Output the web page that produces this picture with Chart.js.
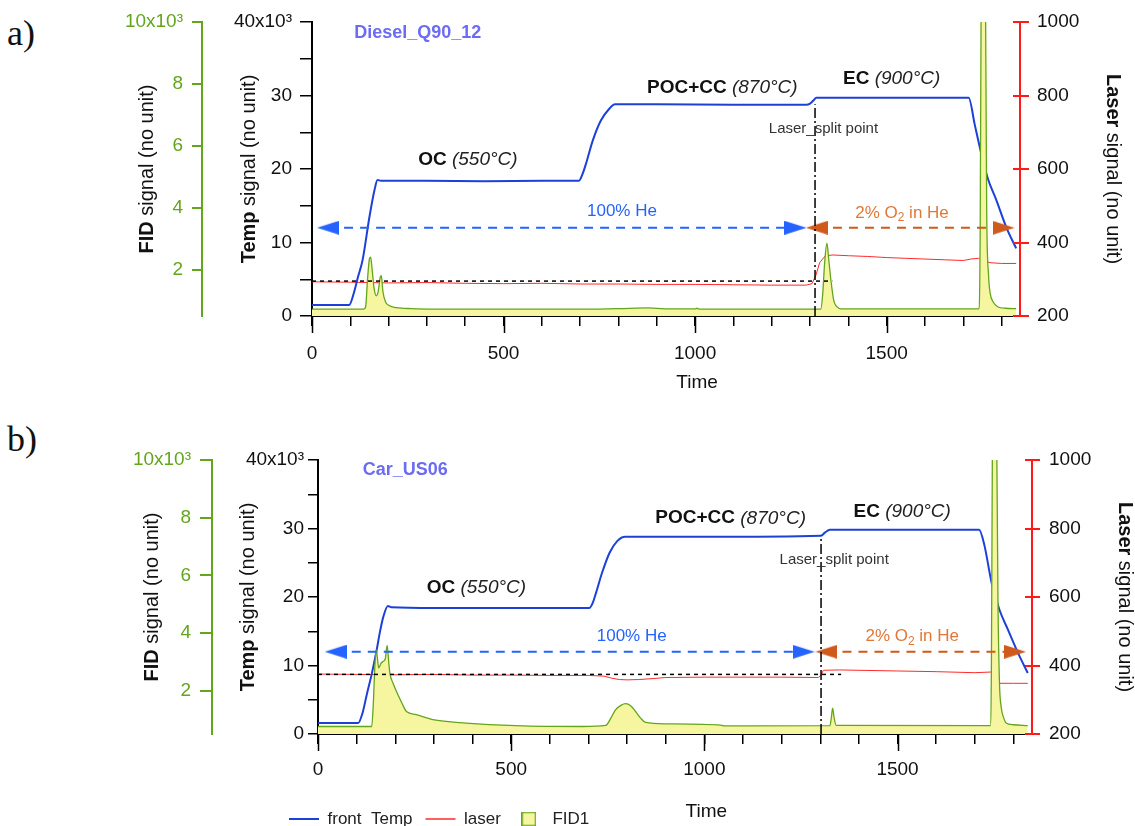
<!DOCTYPE html>
<html>
<head>
<meta charset="utf-8">
<script src="https://cdn.jsdelivr.net/npm/chart.js@4.4.1/dist/chart.umd.min.js"></script>
<style>
  body { margin: 0; background: #fff; width: 1135px; height: 826px; overflow: hidden; position: relative; }
  canvas { position: absolute; left: 0; }
  .tag { position: absolute; left: 7px; font: 36px 'Liberation Serif', 'Times New Roman', serif; line-height: 1; color: #111; }
</style>
</head>
<body>
<div class="tag" style="top:15px">a)</div>
<div class="tag" style="top:421px">b)</div>
<canvas id="chartA" width="1135" height="400" style="top:0"></canvas>
<canvas id="chartB" width="1135" height="400" style="top:426px"></canvas>
<script>
const FONT = "'Liberation Sans', Arial, sans-serif";
Chart.defaults.font.family = FONT;
Chart.defaults.color = '#111';

// tick labels
const timeLabels = [0, 500, 1000, 1500];
const tempLabels = [0, 10000, 20000, 30000, 40000];
const fidLabels = [2000, 4000, 6000, 8000, 10000];
const laserLabels = [200, 400, 600, 800, 1000];

// ---- a) Diesel_Q90_12 ----
const aTempTime = [0, 97, 109, 120, 132, 150, 163, 171, 180, 300, 450, 600, 697, 706, 715, 733, 754, 776, 791, 900, 1100, 1290, 1300, 1310, 1316, 1400, 1600, 1714, 1730, 1747, 1764, 1786, 1812, 1838];
const aTemp = [1500, 1500, 3100, 5300, 7600, 13500, 17100, 18500, 18400, 18400, 18350, 18400, 18400, 19300, 20700, 23900, 26600, 28200, 28800, 28800, 28750, 28750, 28900, 29400, 29700, 29700, 29700, 29700, 26000, 22100, 18700, 15800, 12100, 9200];
const aLaserTime = [0, 100, 200, 300, 400, 500, 600, 700, 800, 900, 1000, 1100, 1200, 1290, 1305, 1315, 1325, 1340, 1360, 1400, 1450, 1500, 1550, 1600, 1650, 1700, 1720, 1740, 1755, 1770, 1800, 1838];
const aLaser = [293, 292, 290, 291, 289, 288, 289, 287, 287, 286, 286, 285, 284, 284, 288, 310, 345, 364, 366, 364, 362, 359, 357, 355, 353, 351, 355, 357, 350, 345, 343, 343];
const aFidTime = [0, 135, 140, 145, 150, 153, 157, 162, 168, 173, 178, 181, 185, 192, 200, 220, 260, 400, 700, 800, 880, 920, 1000, 1005, 1010, 1300, 1328, 1333, 1338, 1344, 1349, 1355, 1362, 1370, 1380, 1740, 1744, 1747, 1752, 1757, 1761, 1766, 1770, 1778, 1790, 1810, 1838];
const aFid = [720, 720, 800, 1700, 2350, 2400, 2000, 1400, 1150, 1300, 1750, 1800, 1300, 950, 850, 770, 740, 720, 720, 740, 760, 730, 730, 750, 725, 720, 725, 1200, 2200, 2850, 2300, 1600, 1000, 800, 730, 730, 3000, 12000, 16000, 13000, 4000, 1800, 1250, 950, 800, 750, 740];
const aBaseline = [295, 1358];   // laser level, end time
const aSplit = [1313, 28800];    // time, temp at top
const aHeArrow = [42, 1262];
const aO2Arrow = [1318, 1805];

// ---- b) Car_US06 ----
const bTempTime = [0, 104, 115, 126, 140, 151, 160, 169, 181, 190, 300, 500, 702, 710, 719, 735, 755, 775, 795, 1000, 1302, 1312, 1325, 1500, 1711, 1725, 1743, 1764, 1786, 1812, 1837];
const bTemp = [1600, 1600, 3000, 5700, 9000, 12000, 14800, 17100, 18700, 18500, 18400, 18400, 18400, 19000, 20500, 23500, 26500, 28200, 28800, 28800, 28950, 29400, 29800, 29800, 29800, 27500, 22200, 18100, 15200, 11800, 8900];
const bLaserTime = [0, 100, 200, 300, 400, 500, 600, 700, 740, 760, 780, 800, 830, 870, 900, 1000, 1100, 1200, 1295, 1302, 1308, 1350, 1400, 1500, 1600, 1700, 1743, 1764, 1800, 1837];
const bLaser = [375, 374, 373, 374, 372, 372, 371, 371, 369, 363, 359, 358, 359, 362, 365, 366, 366, 366, 365, 372, 386, 387, 386, 384, 382, 379, 381, 348, 348, 348];
const bFidTime = [0, 139, 143, 147, 151, 154, 157, 163, 169, 174, 179, 183, 186, 194, 207, 218, 229, 254, 297, 383, 512, 685, 745, 758, 770, 785, 796, 810, 822, 835, 848, 900, 1046, 1050, 1325, 1329, 1332, 1336, 1341, 1740, 1743, 1746, 1751, 1756, 1760, 1764, 1768, 1775, 1781, 1800, 1837];
const bFid = [760, 760, 1500, 2800, 3420, 3100, 2790, 2950, 3020, 3100, 3570, 3000, 2610, 2270, 1860, 1550, 1280, 1170, 1000, 880, 790, 760, 800, 1050, 1340, 1500, 1550, 1470, 1280, 1050, 900, 850, 800, 780, 790, 1100, 1400, 1050, 800, 790, 3000, 12000, 16000, 12000, 5000, 2200, 1460, 1050, 880, 820, 790];
const bBaseline = [374, 1354];
const bSplit = [1302, 28950];
const bHeArrow = [46, 1257];
const bO2Arrow = [1316, 1804];

const ARROW_LEVEL = 12000;

const BLUE = '#1c40d8';
const RED = '#ff2a2a';
const GREEN = '#64a51e';
const YELLOW = '#f6f6a0';
const HE_BLUE = '#2563ff';
const O2_ORANGE = '#cf5a1c';
const O2_TEXT = '#e07838';

const f = (spec) => spec + ' ' + FONT;
const B19 = f('bold 19px'), I19 = f('italic 19px');

// text notes: x in time, y in temp units
const aNotes = [
  { x: 110, y: 38500, align: 'left', parts: [['Diesel_Q90_12', f('bold 18px'), '#6b6bf5']] },
  { x: 407, y: 21300, parts: [['OC', B19, '#111'], [' (550°C)', I19, '#222']] },
  { x: 1071, y: 31100, parts: [['POC+CC', B19, '#111'], [' (870°C)', I19, '#222']] },
  { x: 1513, y: 32250, parts: [['EC', B19, '#111'], [' (900°C)', I19, '#222']] },
  { x: 809, y: 14300, parts: [['100% He', f('17px'), HE_BLUE]] },
  { x: 1540, y: 14000, parts: [['2% O', f('17px'), O2_TEXT], ['2', f('12px'), O2_TEXT, 5], [' in He', f('17px'), O2_TEXT]] },
  { x: 1335, y: 25400, parts: [['Laser_split point', f('15px'), '#333']] }
];
const bNotes = [
  { x: 116, y: 38500, align: 'left', parts: [['Car_US06', f('bold 18px'), '#6b6bf5']] },
  { x: 410, y: 21300, parts: [['OC', B19, '#111'], [' (550°C)', I19, '#222']] },
  { x: 1068, y: 31500, parts: [['POC+CC', B19, '#111'], [' (870°C)', I19, '#222']] },
  { x: 1512, y: 32450, parts: [['EC', B19, '#111'], [' (900°C)', I19, '#222']] },
  { x: 812, y: 14300, parts: [['100% He', f('17px'), HE_BLUE]] },
  { x: 1538, y: 14200, parts: [['2% O', f('17px'), O2_TEXT], ['2', f('12px'), O2_TEXT, 5], [' in He', f('17px'), O2_TEXT]] },
  { x: 1336, y: 25400, parts: [['Laser_split point', f('15px'), '#333']] }
];

function xy(ts, vs) {
  return ts.map((t, i) => ({ x: t, y: vs[i] }));
}

function arrowHead(color) {
  const c = document.createElement('canvas');
  c.width = 22; c.height = 14;
  const g = c.getContext('2d');
  g.fillStyle = color;
  g.beginPath(); g.moveTo(0, 0); g.lineTo(22, 7); g.lineTo(0, 14); g.closePath(); g.fill();
  return c;
}

const fidSwatch = (() => {
  const c = document.createElement('canvas');
  c.width = 15; c.height = 15;
  const g = c.getContext('2d');
  g.fillStyle = YELLOW; g.fillRect(0, 0, 15, 15);
  g.strokeStyle = GREEN; g.lineWidth = 1.5; g.strokeRect(0.75, 0.75, 13.5, 13.5);
  return c;
})();

function richText(ctx, parts, x, y, align) {
  let w = 0;
  parts.forEach(p => { ctx.font = p[1]; w += ctx.measureText(p[0]).width; });
  let cx = align === 'left' ? x : x - w / 2;
  parts.forEach(p => {
    ctx.font = p[1]; ctx.fillStyle = p[2];
    ctx.fillText(p[0], cx, y + (p[3] || 0));
    cx += ctx.measureText(p[0]).width;
  });
}

function rotatedText(ctx, parts, x, y, angle) {
  ctx.save();
  ctx.translate(x, y);
  ctx.rotate(angle);
  richText(ctx, parts, 0, 0);
  ctx.restore();
}

function decoPlugin(notes, L) {
  return {
    id: 'deco',
    afterLayout(chart) {
      if (L.legendShift && chart.legend) {
        chart.legend.left += L.legendShift[0]; chart.legend.right += L.legendShift[0];
        chart.legend.top += L.legendShift[1]; chart.legend.bottom += L.legendShift[1];
      }
    },
    afterDraw(chart) {
      const { ctx, chartArea: a, scales } = chart;
      const mid = (a.top + a.bottom) / 2;
      ctx.save();
      // longer major ticks on the time axis, red laser ticks crossing into the plot
      ctx.lineWidth = 1.5; ctx.strokeStyle = '#000';
      timeLabels.forEach(v => {
        const px = Math.round(scales.x.getPixelForValue(v)) + 0.5;
        ctx.beginPath(); ctx.moveTo(px, a.bottom); ctx.lineTo(px, a.bottom + 17); ctx.stroke();
      });
      ctx.lineWidth = 2; ctx.strokeStyle = '#ff1a1a';
      laserLabels.forEach(v => {
        const py = Math.round(scales.yL.getPixelForValue(v));
        ctx.beginPath(); ctx.moveTo(a.right - 7, py); ctx.lineTo(a.right, py); ctx.stroke();
      });
      ctx.textBaseline = 'middle';
      ctx.textAlign = 'left';
      const T = f('20px'), TB = f('bold 20px');
      rotatedText(ctx, [['FID', TB, '#111'], [' signal (no unit)', T, '#111']], a.left - L.fidTitle, mid, -Math.PI / 2);
      rotatedText(ctx, [['Temp', TB, '#111'], [' signal (no unit)', T, '#111']], a.left - L.tempTitle, mid, -Math.PI / 2);
      rotatedText(ctx, [['Laser', TB, '#111'], [' signal (no unit)', T, '#111']], a.right + L.laserTitle, mid, Math.PI / 2);
      richText(ctx, [['Time', f('19px'), '#111']], scales.x.getPixelForValue(1005), a.bottom + L.timeTitle);
      notes.forEach(n => richText(ctx, n.parts, scales.x.getPixelForValue(n.x), scales.yT.getPixelForValue(n.y), n.align));
      ctx.restore();
    }
  };
}

function kLabel(v, top) {
  return v === top ? (v / 1000) + 'x10³' : String(v / 1000);
}

function makeChart(id, d, notes, L) {
  const datasets = [
    { label: 'front_Temp', data: xy(d.tempTime, d.temp), yAxisID: 'yT', borderColor: BLUE, borderWidth: 2,
      pointRadius: 0, pointStyle: 'line', pointBorderWidth: 2, cubicInterpolationMode: 'monotone', order: 2 },
    { label: 'laser', data: xy(d.laserTime, d.laser), yAxisID: 'yL', borderColor: RED, borderWidth: 1,
      pointRadius: 0, pointStyle: 'line', pointBorderWidth: 1.5, order: 2 },
    { label: 'FID1', data: xy(d.fidTime, d.fid), yAxisID: 'yF', borderColor: GREEN, borderWidth: 1.3,
      backgroundColor: YELLOW, fill: 'start', pointRadius: 0, pointStyle: fidSwatch,
      cubicInterpolationMode: 'monotone', order: 1 },
    { label: 'baseline', data: [{ x: 0, y: d.baseline[0] }, { x: d.baseline[1], y: d.baseline[0] }], yAxisID: 'yL',
      borderColor: '#000', borderWidth: 1.5, borderDash: [4, 4], pointRadius: 0, order: 0 },
    { label: 'split', data: [{ x: d.split[0], y: 0 }, { x: d.split[0], y: d.split[1] }], yAxisID: 'yT',
      borderColor: '#000', borderWidth: 1.5, borderDash: [10, 3, 2, 3], pointRadius: 0, order: 0 },
    { label: 'He', data: [{ x: d.he[0], y: ARROW_LEVEL }, { x: d.he[1], y: ARROW_LEVEL }], yAxisID: 'yT',
      borderColor: HE_BLUE, borderWidth: 2, borderDash: [9, 7], pointStyle: arrowHead(HE_BLUE),
      pointRotation: [180, 0], pointRadius: 6, order: 0 },
    { label: 'O2', data: [{ x: d.o2[0], y: ARROW_LEVEL }, { x: d.o2[1], y: ARROW_LEVEL }], yAxisID: 'yT',
      borderColor: O2_ORANGE, borderWidth: 2, borderDash: [9, 7], pointStyle: arrowHead(O2_ORANGE),
      pointRotation: [180, 0], pointRadius: 6, order: 0 }
  ];

  return new Chart(document.getElementById(id), {
    type: 'line',
    data: { datasets },
    options: {
      responsive: false,
      devicePixelRatio: 1,
      animation: false,
      events: [],
      layout: { padding: L.padding },
      plugins: {
        tooltip: { enabled: false },
        legend: {
          display: !!L.legend,
          position: 'bottom',
          align: 'start',
          fullSize: false,
          labels: {
            usePointStyle: true,
            pointStyleWidth: 30,
            padding: 13,
            color: '#222',
            font: { size: 17 },
            filter: item => item.datasetIndex < 3,
            sort: (a, b) => a.datasetIndex - b.datasetIndex
          }
        }
      },
      scales: {
        x: {
          type: 'linear', position: 'bottom', min: 0, max: 1848,
          ticks: { stepSize: 100, includeBounds: false, autoSkip: false, maxRotation: 0, padding: L.x[1],
            color: '#111', font: { size: 19 }, callback: v => timeLabels.includes(v) ? String(v) : '' },
          grid: { drawOnChartArea: false, tickLength: L.x[0], color: '#000', lineWidth: 1.5 },
          border: { color: '#000', width: 2 },
          afterFit: s => { s.height = L.xH; s.paddingLeft = 0; s.paddingRight = 0; }
        },
        yT: {
          position: 'left', weight: 1, min: 0, max: 40000,
          ticks: { stepSize: 5000, includeBounds: false, autoSkip: false, padding: L.t[1], color: '#111',
            font: { size: 19 }, callback: v => tempLabels.includes(v) ? kLabel(v, 40000) : '' },
          grid: { drawOnChartArea: false, tickLength: L.t[0], color: '#000', lineWidth: 1.5 },
          border: { color: '#000', width: 2 },
          afterFit: s => { s.width = L.tW; s.paddingTop = 0; s.paddingBottom = 0; }
        },
        yF: {
          position: 'left', weight: 2, min: 500, max: 10000,
          afterBuildTicks: s => { s.ticks = fidLabels.map(value => ({ value })); },
          ticks: { autoSkip: false, padding: L.fi[1], color: GREEN,
            font: { size: 19 }, callback: v => kLabel(v, 10000) },
          grid: { drawOnChartArea: false, tickLength: L.fi[0], color: GREEN, lineWidth: 2 },
          border: { color: GREEN, width: 2 },
          afterFit: s => { s.width = L.fW; s.paddingTop = 0; s.paddingBottom = 0; }
        },
        yL: {
          position: 'right', min: 200, max: 1000,
          ticks: { stepSize: 200, autoSkip: false, padding: L.l[1], color: '#111', font: { size: 19 },
            callback: v => laserLabels.includes(v) ? String(v) : '' },
          grid: { drawOnChartArea: false, tickLength: L.l[0], color: '#ff1a1a', lineWidth: 2 },
          border: { color: '#ff1a1a', width: 2 },
          afterFit: s => { s.width = L.lW; s.paddingTop = 0; s.paddingBottom = 0; }
        }
      }
    },
    plugins: [decoPlugin(notes, L)]
  });
}

makeChart('chartA', {
  tempTime: aTempTime, temp: aTemp, laserTime: aLaserTime, laser: aLaser, fidTime: aFidTime, fid: aFid,
  baseline: aBaseline, split: aSplit, he: aHeArrow, o2: aO2Arrow
}, aNotes, {
  padding: { left: 120, right: 8, top: 22, bottom: 0 },
  fW: 82, tW: 110, lW: 107, xH: 84,
  x: [10, 16], t: [12, 8], fi: [10, 9], l: [9, 8],
  fidTitle: 165, tempTitle: 63, laserTitle: 93, timeTitle: 67
});

makeChart('chartB', {
  tempTime: bTempTime, temp: bTemp, laserTime: bLaserTime, laser: bLaser, fidTime: bFidTime, fid: bFid,
  baseline: bBaseline, split: bSplit, he: bHeArrow, o2: bO2Arrow
}, bNotes, {
  padding: { left: 120, right: 3, top: 34, bottom: 0 },
  fW: 92, tW: 106, lW: 100, xH: 52,
  x: [10, 14], t: [10, 4], fi: [12, 9], l: [8, 9],
  fidTitle: 166, tempTitle: 70, laserTitle: 93, timeTitle: 78,
  legend: true, legendShift: [-42, 11.5]
});
</script>
</body>
</html>
